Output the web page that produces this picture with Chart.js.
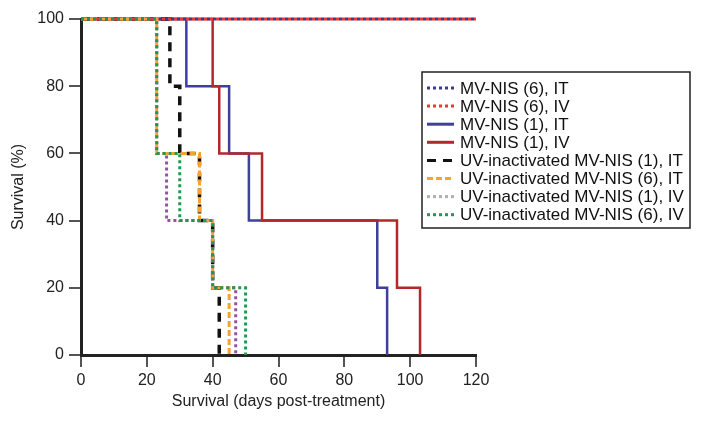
<!DOCTYPE html>
<html><head><meta charset="utf-8">
<script src="https://cdn.jsdelivr.net/npm/chart.js@4/dist/chart.umd.min.js"></script>
<style>html,body{margin:0;padding:0;background:#fff}#wrap{width:704px;height:422px;position:relative}</style>
</head><body><div id="wrap"><canvas id="c" width="704" height="422"></canvas></div>
<script>
// Series labels (legend order)
const seriesLabels = [
  'MV-NIS (6), IT',
  'MV-NIS (6), IV',
  'MV-NIS (1), IT',
  'MV-NIS (1), IV',
  'UV-inactivated MV-NIS (1), IT',
  'UV-inactivated MV-NIS (6), IT',
  'UV-inactivated MV-NIS (1), IV',
  'UV-inactivated MV-NIS (6), IV'
];
// Kaplan-Meier step data: days and survival (%)
const mvNis6IT_days = [0, 120];
const mvNis6IT_surv = [100, 100];
const mvNis6IV_days = [0, 120];
const mvNis6IV_surv = [100, 100];
const mvNis1IT_days = [0, 32, 45, 51, 90, 93];
const mvNis1IT_surv = [100, 80, 60, 40, 20, 0];
const mvNis1IV_days = [0, 40, 42, 55, 96, 103];
const mvNis1IV_surv = [100, 80, 60, 40, 20, 0];
const uv1IT_days = [0, 27, 30, 36, 40, 42];
const uv1IT_surv = [100, 80, 60, 40, 20, 0];
const uv6IT_days = [0, 23, 36, 40, 45];
const uv6IT_surv = [100, 60, 40, 20, 0];
const uv1IV_days = [0, 23, 26, 40, 47];
const uv1IV_surv = [100, 60, 40, 20, 0];
const uv6IV_days = [0, 23, 30, 40, 50];
const uv6IV_surv = [100, 60, 40, 20, 0];
const xTicks = [0, 20, 40, 60, 80, 100, 120];
const yTicks = [0, 20, 40, 60, 80, 100];

const seriesDays = [mvNis6IT_days, mvNis6IV_days, mvNis1IT_days, mvNis1IV_days, uv1IT_days, uv6IT_days, uv1IV_days, uv6IV_days];
const seriesSurv = [mvNis6IT_surv, mvNis6IV_surv, mvNis1IT_surv, mvNis1IV_surv, uv1IT_surv, uv6IT_surv, uv1IV_surv, uv6IV_surv];

// styles
const lineColors   = ['#3c3a8c', '#e8383a', '#3f3f9c', '#b3282c', '#111111', '#f5a233', '#9a4fa6', '#1e9a50'];
const legendColors = ['#3c3a8c', '#e8383a', '#3f3f9c', '#b3282c', '#111111', '#f5a233', '#b0b0b0', '#1e9a50'];
const dashes = [[3,3],[3,3],[],[],[9,7],[6,3],[3,3],[3,3]];
const dashOffsets = [0,3,0,0,0,0,0,0];
const widths = [3,3,2.5,2.5,3.5,3,3,3];
const drawOrder = [3,2,7,6,5,1,4,0];

const datasets = seriesLabels.map((lab, i) => ({
  label: lab,
  data: seriesDays[i].map((d, j) => ({x: d, y: seriesSurv[i][j]})),
  borderColor: lineColors[i],
  backgroundColor: lineColors[i],
  borderWidth: widths[i],
  borderDash: dashes[i],
  borderDashOffset: dashOffsets[i],
  borderCapStyle: 'butt',
  stepped: true,
  pointRadius: 0,
  fill: false,
  clip: 8,
  order: drawOrder[i]
}));

const legendPlugin = {
  id: 'boxLegend',
  afterDraw(chart) {
    const ctx = chart.ctx;
    const left = 422, top = 72, w = 268, h = 156;
    ctx.save();
    ctx.fillStyle = '#fff';
    ctx.fillRect(left, top, w, h);
    ctx.strokeStyle = '#222';
    ctx.lineWidth = 1.5;
    ctx.strokeRect(left, top, w, h);
    ctx.font = '17px "Liberation Sans", Arial, sans-serif';
    ctx.textBaseline = 'middle';
    seriesLabels.forEach((lab, i) => {
      const y = top + 16 + i * 18.1;
      ctx.beginPath();
      ctx.setLineDash(dashes[i]);
      ctx.lineDashOffset = 0;
      ctx.strokeStyle = legendColors[i];
      ctx.lineWidth = 3;
      ctx.moveTo(427, y);
      ctx.lineTo(454, y);
      ctx.stroke();
      ctx.setLineDash([]);
      ctx.fillStyle = '#111';
      ctx.fillText(lab, 460, y + 1);
    });
    ctx.restore();
  }
};

new Chart(document.getElementById('c'), {
  type: 'line',
  data: { datasets },
  plugins: [legendPlugin],
  options: {
    responsive: false,
    animation: false,
    devicePixelRatio: 1,
    layout: { padding: { top: 19, right: 228, left: 9, bottom: 11 } },
    plugins: { legend: { display: false }, tooltip: { enabled: false } },
    scales: {
      x: {
        type: 'linear', min: 0, max: 120,
        afterBuildTicks: s => { s.ticks = xTicks.map(v => ({value: v})); },
        afterFit: s => { s.height = 56; },
        ticks: { color: '#222', font: { family: '"Liberation Sans", Arial, sans-serif', size: 16 }, padding: 4 },
        grid: { display: true, drawOnChartArea: false, drawTicks: true, tickLength: 12, color: '#555', lineWidth: 2 },
        border: { display: true, color: '#222', width: 3 },
        title: { display: true, text: 'Survival (days post-treatment)', color: '#222', font: { family: '"Liberation Sans", Arial, sans-serif', size: 16 }, padding: { top: 2, bottom: 0 } }
      },
      y: {
        type: 'linear', min: 0, max: 100,
        afterBuildTicks: s => { s.ticks = yTicks.map(v => ({value: v})); },
        afterFit: s => { s.width = 72; },
        ticks: { color: '#222', font: { family: '"Liberation Sans", Arial, sans-serif', size: 16 }, padding: 5 },
        grid: { display: true, drawOnChartArea: false, drawTicks: true, tickLength: 12, color: '#555', lineWidth: 2 },
        border: { display: true, color: '#222', width: 3 },
        title: { display: true, text: 'Survival (%)', color: '#222', font: { family: '"Liberation Sans", Arial, sans-serif', size: 16 }, padding: { top: 0, bottom: 0 } }
      }
    }
  }
});
</script>
</body></html>
